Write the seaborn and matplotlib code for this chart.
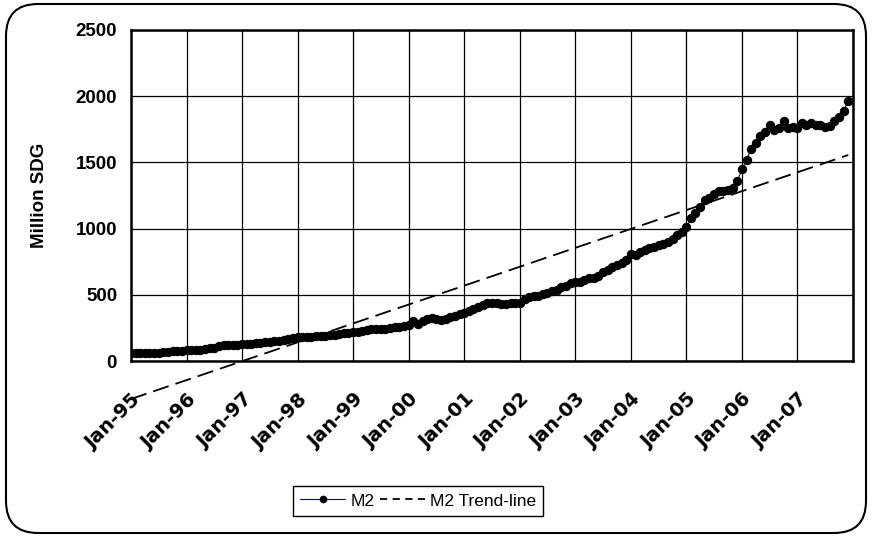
import matplotlib
matplotlib.use("Agg")
import matplotlib.pyplot as plt
import matplotlib.transforms as mtransforms
from matplotlib.lines import Line2D
from matplotlib.patches import FancyBboxPatch
import seaborn as sns
import pandas as pd
import numpy as np

# Monthly M2 money supply (million SDG), Jan-95 .. Dec-07
m2_1995 = [58, 58, 59, 59, 60, 60, 62, 66, 70, 72, 74, 76]
m2_1996 = [80, 82, 84, 86, 90, 95, 100, 110, 118, 120, 122, 124]
m2_1997 = [126, 128, 130, 135, 138, 140, 143, 148, 152, 160, 168, 175]
m2_1998 = [178, 180, 182, 185, 188, 190, 192, 195, 198, 202, 208, 212]
m2_1999 = [218, 222, 230, 235, 238, 240, 242, 245, 250, 255, 260, 265]
m2_2000 = [275, 300, 280, 300, 315, 325, 320, 312, 318, 330, 342, 352]
m2_2001 = [365, 378, 392, 410, 425, 435, 438, 435, 432, 433, 435, 437]
m2_2002 = [440, 465, 485, 488, 492, 505, 515, 525, 540, 558, 570, 588]
m2_2003 = [600, 598, 610, 630, 625, 645, 670, 690, 712, 725, 740, 760]
m2_2004 = [810, 800, 820, 840, 853, 862, 875, 885, 899, 920, 950, 975]
m2_2005 = [1010, 1080, 1120, 1160, 1215, 1232, 1260, 1284, 1282, 1290, 1305, 1360]
m2_2006 = [1450, 1520, 1600, 1650, 1700, 1730, 1780, 1745, 1760, 1815, 1760, 1765]
m2_2007 = [1760, 1795, 1780, 1800, 1785, 1782, 1768, 1775, 1810, 1845, 1890, 1965]

m2_values = (m2_1995 + m2_1996 + m2_1997 + m2_1998 + m2_1999 + m2_2000 + m2_2001
             + m2_2002 + m2_2003 + m2_2004 + m2_2005 + m2_2006 + m2_2007)
dates = pd.date_range("1995-01-01", periods=len(m2_values), freq="MS")

# linear trend line end points
trend_values = [-287, 1556]

tick_labels = ["Jan-95", "Jan-96", "Jan-97", "Jan-98", "Jan-99", "Jan-00", "Jan-01",
               "Jan-02", "Jan-03", "Jan-04", "Jan-05", "Jan-06", "Jan-07", ""]
y_ticks = [0, 500, 1000, 1500, 2000, 2500]

df = pd.DataFrame({"date": dates, "M2": m2_values})
trend_df = pd.DataFrame({"date": [dates[0], dates[-1]], "trend": trend_values})

sns.set_style("white")
plt.rcParams["font.family"] = ["Liberation Sans", "DejaVu Sans"]
plt.rcParams["text.color"] = "black"
plt.rcParams["axes.labelcolor"] = "black"
plt.rcParams["xtick.color"] = "black"
plt.rcParams["ytick.color"] = "black"

fig = plt.figure(figsize=(8.72, 5.37), dpi=100)
ax = fig.add_axes([131 / 872, 176 / 537, 722 / 872, 331 / 537])

# outer rounded frame
frame = FancyBboxPatch((0.06, 0.04), 8.6, 5.29, boxstyle="round,pad=0,rounding_size=0.32",
                       transform=fig.dpi_scale_trans, facecolor="none",
                       edgecolor="black", linewidth=1.5, zorder=0)
fig.patches.append(frame)

sns.lineplot(data=df, x="date", y="M2", ax=ax, color="#10104a", linewidth=0.8,
             marker="o", markersize=6, markerfacecolor="black",
             markeredgecolor="black", zorder=3, legend=False)
sns.lineplot(data=trend_df, x="date", y="trend", ax=ax, color="black",
             linewidth=1.3, dashes=False, zorder=4, legend=False)
trend_line = ax.get_lines()[-1]
trend_line.set_dashes((9, 4))
trend_line.set_clip_on(False)

ax.set_xlim(pd.Timestamp("1995-01-01"), pd.Timestamp("2008-01-01"))
ax.set_ylim(0, 2500)
xt = pd.date_range("1995-01-01", "2008-01-01", freq="YS")
ax.set_xticks(xt)
ax.set_xticklabels(tick_labels, rotation=45, ha="right", va="top",
                   rotation_mode="anchor", fontweight="bold", fontsize=14,
                   family="DejaVu Sans")
shift = mtransforms.ScaledTranslation(-7 / 72, 0, fig.dpi_scale_trans)
for lbl in ax.get_xticklabels():
    lbl.set_transform(lbl.get_transform() + shift)
ax.set_yticks(y_ticks)
ax.set_yticklabels([str(v) for v in y_ticks], fontweight="bold", fontsize=13.5)

ax.grid(True, color="black", linewidth=0.9)
ax.set_axisbelow(True)
ax.tick_params(axis="x", direction="out", length=5, width=0.9, pad=16, color="black")
ax.tick_params(axis="y", direction="out", length=3, width=0.9, pad=7, color="black")
for s in ax.spines.values():
    s.set_color("black")
    s.set_linewidth(1.8)

ax.set_xlabel("")
ax.set_ylabel("Million SDG", fontweight="bold", fontsize=13.5, labelpad=20)

handles = [
    Line2D([0], [0], color="#10104a", linewidth=0.8, marker="o", markersize=4.5,
           markerfacecolor="black", markeredgecolor="black"),
    Line2D([0], [0], color="black", linewidth=1.3, dashes=(4, 3)),
]
fig.legend(handles, ["M2", "M2 Trend-line"], loc="center",
           bbox_to_anchor=(418 / 872, 1 - 501 / 537), ncol=2, fontsize=12.5,
           frameon=True, fancybox=False, edgecolor="black", framealpha=1,
           handlelength=2.6, handletextpad=0.3, columnspacing=0.3,
           borderpad=0.4)
fig.legends[0].get_frame().set_linewidth(1.0)

fig.savefig("out.png", dpi=100)
